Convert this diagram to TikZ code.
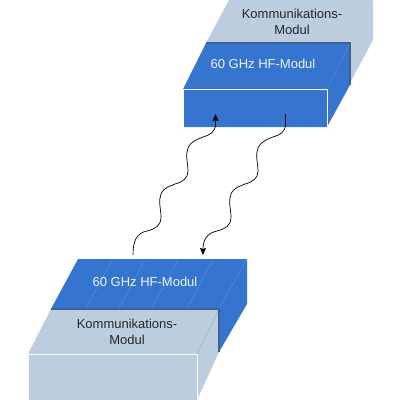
\documentclass[tikz,border=0pt]{standalone}
\usepackage{fontspec}
\setmainfont{Liberation Sans}
\usetikzlibrary{calc,arrows.meta}
\definecolor{hfblue}{HTML}{3575CF}
\definecolor{kmgrey}{HTML}{BCCDE0}
\definecolor{edgedark}{HTML}{42618C}
\tikzstyle{hfface} = [fill=hfblue, draw=none]
\tikzstyle{kmface} = [fill=kmgrey, draw=none]
\tikzstyle{rim} = [draw=edgedark, line width=1.5pt]
\tikzstyle{front} = [draw=white, line width=0.8pt]
\tikzstyle{seam} = [draw=white, opacity=0.2, line width=0.4pt]
\tikzstyle{seamgrey} = [draw=gray, opacity=0.45, line width=0.4pt]
\tikzstyle{hflabel} = [text=white!92!hfblue, font=\fontsize{13}{16}\selectfont, align=center, inner sep=0pt]
\tikzstyle{kmlabel} = [text=black!85, font=\fontsize{13}{16}\selectfont, align=center, inner sep=0pt]
\tikzstyle{arrow} = [line width=0.7pt,-{Stealth[length=7pt,width=6pt,inset=1pt]}]
\begin{document}
\begin{tikzpicture}[x=1pt,y=-1pt]
\useasboundingbox (0,0) rectangle (400,400);

% upper pair
\fill [kmface] (229,0) -- (373,0) -- (373,40) -- (350,83) -- (350,43) -- (206,43) -- cycle;
\foreach \x in {265,301,337}
  \draw [seam] (\x,0) -- ($(\x,0)+(-23,43)$);
\draw [seam] (373,0) -- (350,43);
\fill [hfface] (206,43) -- (350,43) -- (350,85) -- (327,127) -- (183,127) -- (183,89) -- cycle;
\draw [seam] (350,43) -- (327,89);
\draw [rim] (206,43) -- (350,43) -- (350,85);
\draw [front] (183,127) -- (183,89) -- (327,89) -- (327,127);

% lower pair
\fill [hfface] (78,259) -- (247,259) -- (247,304) -- (219,352) -- (219,309) -- (51,309) -- cycle;
\foreach \x in {112,145,178,213}
  \draw [seam] (\x,260) -- ($(\x,260)+(-26,48)$);
\draw [seam] (247,259) -- (219,309);
\fill [kmface] (51,309) -- (219,309) -- (219,352) -- (197,400) -- (28,400) -- (28,354) -- cycle;
\draw [seamgrey] (219,309) -- (197,354);
\draw [rim] (51,309) -- (219,309) -- (219,352);
\draw [front] (28,400) -- (28,354) -- (197,354) -- (197,400);

\node (kmTop) [kmlabel] at (292,22) {Kommunikations-\\Modul};
\node (hfTop) [hflabel] at (263,64) {60 GHz HF-Modul};
\node (hfBottom) [hflabel] at (145,282) {60 GHz HF-Modul};
\node (kmBottom) [kmlabel] at (127,332) {Kommunikations-\\Modul};

\coordinate (upStart) at (133,255);
\coordinate (upEnd) at (215.5,114);
\coordinate (downStart) at (285.5,114);
\coordinate (downEnd) at (203,255);

\draw [arrow] (upStart) .. controls (133,240) and (137,233) .. (147,231)
  .. controls (155,229) and (161,226) .. (161,217)
  .. controls (161,209) and (158,201) .. (161,194)
  .. controls (164,187) and (171,186) .. (175,184)
  .. controls (183,182) and (188,178) .. (188,171)
  .. controls (188,163) and (185,155) .. (188,148)
  .. controls (191,141) and (198,139) .. (203,137)
  .. controls (210,135) and (215.5,132) .. (215.5,124) -- (upEnd);
\draw [arrow] (downStart) -- (285.5,124)
  .. controls (285.5,132) and (280,135) .. (273,137)
  .. controls (268,139) and (261,141) .. (258,148)
  .. controls (255,155) and (258,163) .. (258,171)
  .. controls (258,178) and (253,182) .. (245,184)
  .. controls (241,186) and (234,187) .. (231,194)
  .. controls (228,201) and (231,209) .. (231,217)
  .. controls (231,226) and (225,229) .. (217,231)
  .. controls (207,233) and (203,240) .. (downEnd);
\end{tikzpicture}
\end{document}
